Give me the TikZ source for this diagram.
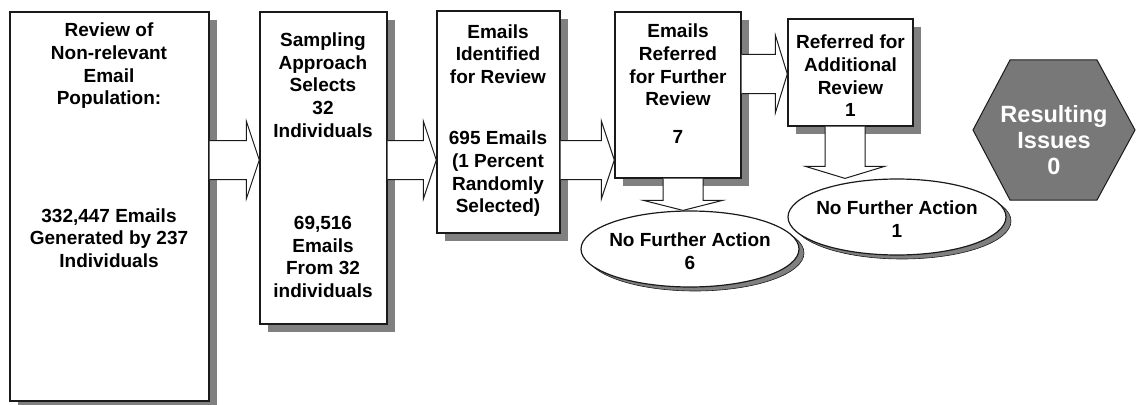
\documentclass[tikz,border=0pt]{standalone}
\usepackage{fontspec}
\setmainfont{Liberation Sans}
\usetikzlibrary{calc,shapes.geometric,shadows}
\definecolor{shadowgray}{HTML}{808080}
\definecolor{hexgray}{HTML}{787878}
\definecolor{ink}{HTML}{1A1A1A}
\tikzset{
  box/.style={draw=ink, line width=1.4pt, fill=white, inner sep=0pt,
    drop shadow={shadow xshift=8pt, shadow yshift=-8pt, fill=shadowgray, opacity=1}},
  oval/.style={ellipse, draw=ink, line width=1.2pt, fill=white, inner sep=0pt,
    minimum width=218pt, minimum height=76pt,
    drop shadow={shadow xshift=5pt, shadow yshift=-4pt, fill=shadowgray, draw=ink, line width=0.6pt, opacity=1}},
  barrow/.style={draw=ink, line width=1pt, fill=white, line join=miter},
  txt/.style={align=center, inner sep=0pt, font=\bfseries\fontsize{19}{22.7}\selectfont},
  hextxt/.style={align=center, inner sep=0pt, text=white, font=\bfseries\fontsize{23.5}{26}\selectfont},
}
% horizontal block arrow: from node, to node, centre y (pixels down), head length
\newcommand\harrow[4]{%
  \draw[barrow] let \p1=(#1.east), \p2=(#2.west) in
    (\x1,{-(#3-19.5)*1pt}) -- ({\x2-#4*1pt},{-(#3-19.5)*1pt}) -- ({\x2-#4*1pt},{-(#3-39)*1pt})
    -- (\x2,{-#3*1pt}) -- ({\x2-#4*1pt},{-(#3+39)*1pt}) -- ({\x2-#4*1pt},{-(#3+19.5)*1pt})
    -- (\x1,{-(#3+19.5)*1pt});}
% vertical block arrow: from node, to node, centre x, head length
\newcommand\varrow[4]{%
  \draw[barrow] let \p1=(#1.south), \p2=(#2.north) in
    ({(#3-20)*1pt},\y1) -- ({(#3-20)*1pt},{\y2+#4*1pt}) -- ({(#3-39.5)*1pt},{\y2+#4*1pt})
    -- ({#3*1pt},\y2) -- ({(#3+39.5)*1pt},{\y2+#4*1pt}) -- ({(#3+20)*1pt},{\y2+#4*1pt})
    -- ({(#3+20)*1pt},\y1);}
\begin{document}
\begin{tikzpicture}[x=1pt,y=-1pt]
\useasboundingbox (0,0) rectangle (1137,404);
% boxes
\node[box, minimum width=199pt, minimum height=389pt] (b1) at (109.5,206.5) {};
\node[box, minimum width=127pt, minimum height=312pt] (b2) at (323.5,168) {};
\node[box, minimum width=123pt, minimum height=222pt] (b3) at (498.5,122) {};
\node[box, minimum width=126pt, minimum height=166pt] (b4) at (678,95) {};
\node[box, minimum width=125pt, minimum height=107pt] (b5) at (850.5,72.5) {};
% ovals
\node[oval] (e1) at (690,249) {};
\node[oval] (e2) at (897,217) {};
% block arrows
\harrow{b1}{b2}{160}{13}
\harrow{b2}{b3}{160}{13}
\harrow{b3}{b4}{160}{13}
\harrow{b4}{b5}{74}{12}
\varrow{b4}{e1}{683}{10}
\varrow{b5}{e2}{845}{12}
% hexagon
\draw[draw=ink, line width=1pt, fill=hexgray]
  (973,130) -- (1010,60) -- (1097,60) -- (1135,130) -- (1097,200) -- (1010,200) -- cycle;
% texts
\node[txt] (t1a) at (109,66) {Review of\\Non-relevant\\Email\\Population:};
\node[txt] (t1b) at (109,238) {332,447 Emails\\Generated by 237\\Individuals};
\node[txt] (t2a) at (323,85) {Sampling\\Approach\\Selects\\32\\Individuals};
\node[txt] (t2b) at (323,257) {69,516\\Emails\\From 32\\individuals};
\node[txt] (t3a) at (498,54) {Emails\\Identified\\for Review};
\node[txt] (t3b) at (498,174) {695 Emails\\(1 Percent\\Randomly\\Selected)};
\node[txt] (t4a) at (678,65) {Emails\\Referred\\for Further\\Review};
\node[txt] (t4b) at (678,137) {7};
\node[txt] (t5) at (850.5,76) {Referred for\\Additional\\Review\\1};
\node[txt] (te1) at (690,251) {No Further Action\\6};
\node[txt] (te2) at (897,219) {No Further Action\\1};
\node[hextxt] (th) at (1054,140) {Resulting\\Issues\\0};
\end{tikzpicture}
\end{document}
